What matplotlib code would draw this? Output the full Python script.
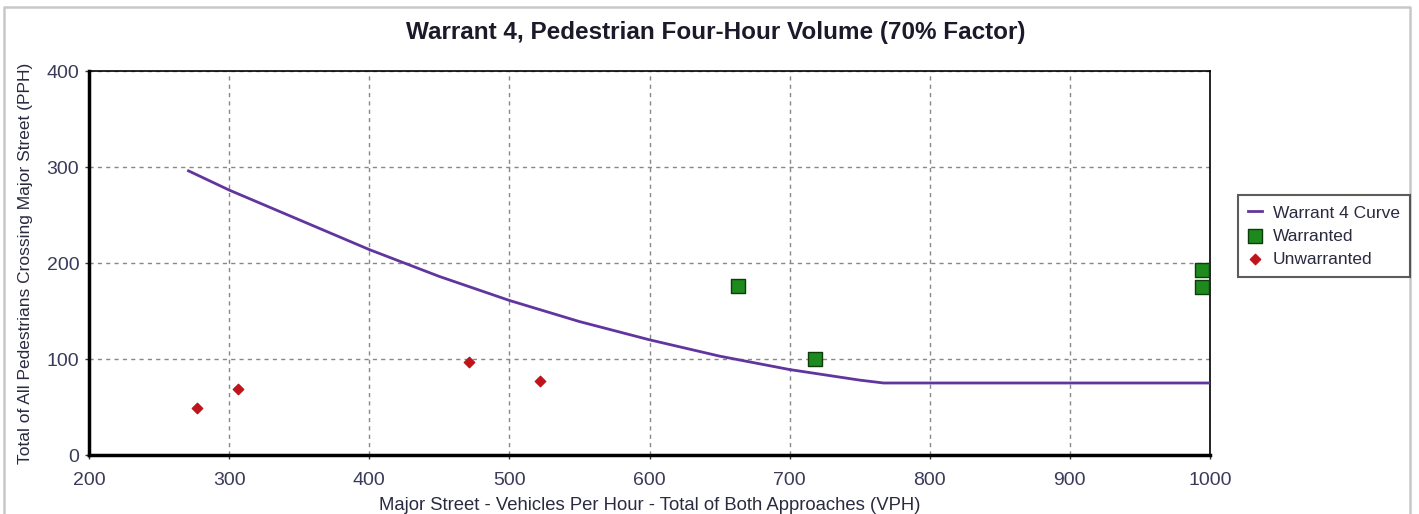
import matplotlib
matplotlib.use("Agg")
import matplotlib.pyplot as plt
from matplotlib.lines import Line2D

plt.rcParams['font.family'] = ['Liberation Sans', 'DejaVu Sans']

curve_x = [271, 300, 350, 400, 450, 500, 550, 600, 650, 700, 750, 767, 1000]
curve_y = [296, 276, 245, 214, 186, 161, 139, 120, 103, 89, 78, 75, 75]

warr_x = [663, 718, 994, 994]
warr_y = [176, 100, 193, 175]

unwarr_x = [277, 306, 471, 522]
unwarr_y = [49, 69, 97, 77]

xticks = [200, 300, 400, 500, 600, 700, 800, 900, 1000]
yticks = [0, 100, 200, 300, 400]

fig = plt.figure(figsize=(14.19, 5.14), dpi=100)
bx0, bx1, by = 4/1419, 1410/1419, 1 - 7/514
fig.lines.append(Line2D([bx0, bx0, bx1, bx1], [0, by, by, 0], transform=fig.transFigure,
                        color='#c8c8c8', linewidth=1.8))
ax = fig.add_axes([89/1419, 59/514, 1121/1419, 384/514])

ax.plot(curve_x, curve_y, color='#62359e', linewidth=2, label='Warrant 4 Curve', zorder=3)
ax.scatter(warr_x, warr_y, marker='s', s=110, color='#1e8a1e', edgecolor='#0c3d0c',
           linewidth=1, label='Warranted', zorder=4)
ax.scatter(unwarr_x, unwarr_y, marker='D', s=28, color='#c0141c', edgecolor='#c0141c',
           label='Unwarranted', zorder=4)

ax.set_xlim(200, 1000)
ax.set_ylim(0, 400)
ax.set_xticks(xticks)
ax.set_yticks(yticks)
ax.grid(True, linestyle=(0, (3, 3)), color='#888888', linewidth=1)
for s in ['left', 'bottom']:
    ax.spines[s].set_linewidth(2.5)
for s in ['top', 'right']:
    ax.spines[s].set_linewidth(1.2)
ax.tick_params(colors='#333355', labelsize=14, length=3, width=1, pad=4)
ax.tick_params(axis='x', pad=9)
for lab in ax.get_xticklabels() + ax.get_yticklabels():
    lab.set_color('#3a3a5a')

fig.text(716/1419, 1 - 33/514, 'Warrant 4, Pedestrian Four-Hour Volume (70% Factor)',
         fontsize=17.5, fontweight='bold', color='#1a1a2a', ha='center', va='center')
ax.set_xlabel('Major Street - Vehicles Per Hour - Total of Both Approaches (VPH)',
              fontsize=13.3, color='#2a2a40', labelpad=6)
ax.set_ylabel('Total of All Pedestrians Crossing Major Street (PPH)',
              fontsize=12.5, color='#2a2a40', labelpad=10)

leg = fig.legend(loc='upper left', bbox_to_anchor=(1238/1419, 1 - 195/514),
                 fontsize=12.5, frameon=True, fancybox=False, edgecolor='#333333',
                 handlelength=0.8, handletextpad=0.6, borderpad=0.6, labelspacing=0.45,
                 borderaxespad=0)
leg.get_frame().set_linewidth(1.5)
for t in leg.get_texts():
    t.set_color('#2a2a40')

fig.savefig('out.png', dpi=100)
